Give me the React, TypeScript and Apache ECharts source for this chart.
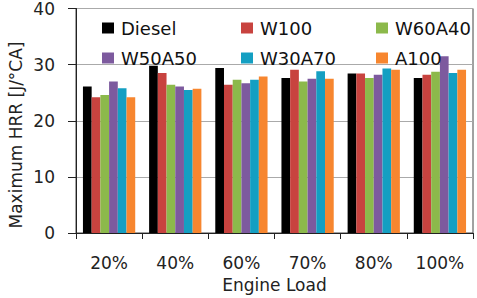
import React, { useEffect, useRef } from "react";
import * as echarts from "echarts";

const categories = ["20%", "40%", "60%", "70%", "80%", "100%"];
const seriesNames = ["Diesel", "W100", "W60A40", "W50A50", "W30A70", "A100"];
const diesel = [26.1, 29.8, 29.4, 27.6, 28.4, 27.6];
const w100 = [24.2, 28.5, 26.4, 29.1, 28.4, 28.2];
const w60a40 = [24.6, 26.4, 27.3, 27.0, 27.6, 28.75];
const w50a50 = [27.0, 26.1, 26.7, 27.5, 28.2, 31.5];
const w30a70 = [25.8, 25.5, 27.3, 28.8, 29.3, 28.5];
const a100 = [24.2, 25.7, 27.9, 27.5, 29.1, 29.1];
const yTicks = { min: 0, max: 40, interval: 10 };
const yTitle = "Maximum HRR [J/°CA]";
const xTitle = "Engine Load";

const colors = ["#000000", "#C8433F", "#8CB94B", "#7D5A9E", "#149FC2", "#F7862F"];
const FONT = "DejaVu Sans";

export default function App() {
  const ref = useRef<HTMLDivElement>(null);
  useEffect(() => {
    document.body.style.margin = "0";
    const chart = echarts.init(ref.current!, undefined, { renderer: "svg" });
    const values = [diesel, w100, w60a40, w50a50, w30a70, a100];
    const legendPos = [
      { left: 97, top: 13 },
      { left: 236, top: 13 },
      { left: 371, top: 13 },
      { left: 97, top: 43 },
      { left: 236, top: 43 },
      { left: 371, top: 43 },
    ];
    chart.setOption({
      animation: false,
      color: colors,
      textStyle: { fontFamily: FONT },
      grid: {
        left: 76,
        right: 4,
        top: 8,
        bottom: 64,
        show: true,
        borderColor: "#444",
        borderWidth: 1,
        backgroundColor: "transparent",
      },
      legend: seriesNames.map((n, i) => ({
        data: [n],
        left: legendPos[i].left,
        top: legendPos[i].top,
        itemWidth: 12,
        itemHeight: 11,
        icon: "rect",
        selectedMode: false,
        textStyle: {
          fontFamily: FONT,
          fontSize: 18,
          color: "#111",
          lineHeight: 20,
          padding: [0, 0, 0, 2],
        },
      })),
      xAxis: {
        type: "category",
        data: categories,
        name: xTitle,
        nameLocation: "middle",
        nameGap: 43,
        nameTextStyle: { fontFamily: FONT, fontSize: 17, color: "#222" },
        axisLine: { lineStyle: { color: "#222", width: 1 } },
        axisTick: { show: true, length: 6, lineStyle: { color: "#222" } },
        axisLabel: { fontFamily: FONT, fontSize: 17, color: "#222", margin: 21 },
      },
      yAxis: {
        type: "value",
        min: yTicks.min,
        max: yTicks.max,
        interval: yTicks.interval,
        axisLine: { show: true, lineStyle: { color: "#222", width: 1 } },
        axisTick: { show: true, length: 8, lineStyle: { color: "#222" } },
        axisLabel: { fontFamily: FONT, fontSize: 17, color: "#222", margin: 21 },
        splitLine: { lineStyle: { color: "#aaaaaa", width: 1 } },
      },
      graphic: [
        {
          type: "text",
          x: 16,
          y: 135,
          rotation: Math.PI / 2,
          style: {
            text: yTitle,
            fontFamily: FONT,
            fontSize: 17,
            fill: "#222",
            align: "center",
            verticalAlign: "middle",
          },
        },
      ],
      series: seriesNames.map((n, i) => ({
        name: n,
        type: "bar",
        data: values[i],
        barGap: "0%",
        barCategoryGap: "21%",
        itemStyle: { color: colors[i] },
      })),
    });
    return () => chart.dispose();
  }, []);
  return <div ref={ref} style={{ width: 477, height: 298 }} />;
}
